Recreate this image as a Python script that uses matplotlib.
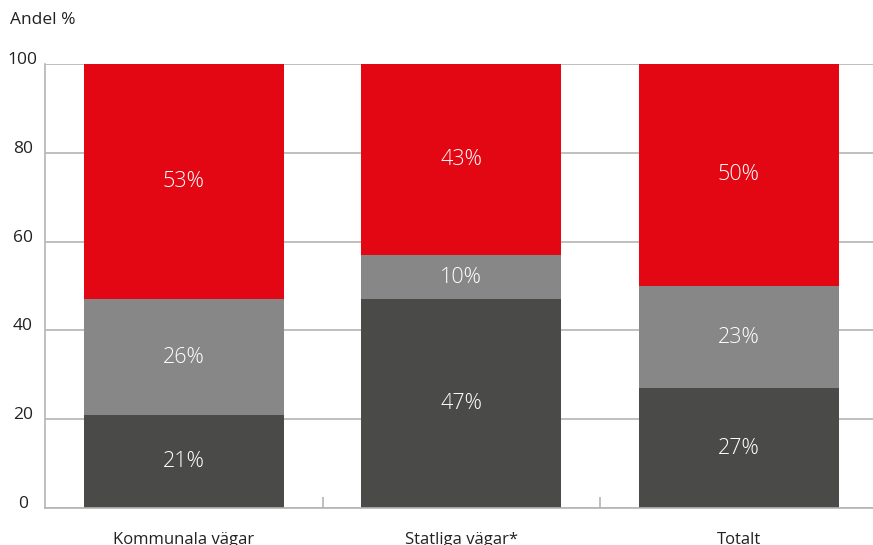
import matplotlib.pyplot as plt
import numpy as np

categories = ["Kommunala vägar", "Statliga vägar*", "Totalt"]
bottom_vals = [21, 47, 27]
middle_vals = [26, 10, 23]
top_vals = [53, 43, 50]
y_ticks = [0, 20, 40, 60, 80, 100]

plt.rcParams['font.family'] = ['Open Sans', 'DejaVu Sans']

c_dark = "#4a4a49"
c_gray = "#878787"
c_red = "#e30613"
c_grid = "#b4b4b4"
c_text = "#222222"

fig = plt.figure(figsize=(8.73, 5.45), dpi=100)
ax = fig.add_axes([45 / 873, 1 - 508 / 545, 832.5 / 873, 444 / 545])

x = np.arange(len(categories))
w = 0.72
b1 = np.array(bottom_vals)
b2 = b1 + np.array(middle_vals)

ax.bar(x, bottom_vals, width=w, color=c_dark, zorder=2)
ax.bar(x, middle_vals, width=w, bottom=b1, color=c_gray, zorder=2)
ax.bar(x, top_vals, width=w, bottom=b2, color=c_red, zorder=2)

for i in range(len(categories)):
    for base, val in ((0, bottom_vals[i]), (b1[i], middle_vals[i]), (b2[i], top_vals[i])):
        ax.text(x[i], base + val / 2, f"{val}%", ha="center", va="center",
                color="white", fontsize=15.5, fontweight="light", zorder=3)

ax.set_xlim(-0.5, len(categories) - 0.5)
ax.set_ylim(0, 100)

ax.set_yticks(y_ticks)
ax.set_yticklabels([str(t) for t in y_ticks], fontsize=12.5, color=c_text,
                   va="baseline", ha="center")
ax.tick_params(axis="y", length=0, pad=16)
ax.yaxis.grid(True, color=c_grid, linewidth=1.2, zorder=1)

ax.set_xticks(x)
ax.set_xticklabels(categories, fontsize=12, color=c_text)
ax.tick_params(axis="x", length=0, pad=17)
ax.set_xticks([0.5, 1.5], minor=True)
ax.tick_params(axis="x", which="minor", direction="in", length=8,
               color=c_grid, width=1.2)

for side in ("top", "right"):
    ax.spines[side].set_visible(False)
for side in ("left", "bottom"):
    ax.spines[side].set_color(c_grid)
    ax.spines[side].set_linewidth(1.2)

fig.text(10 / 873, 1 - 20 / 545, "Andel %", fontsize=12.5, color=c_text,
         ha="left", va="center")

fig.savefig("out.png", dpi=100)
